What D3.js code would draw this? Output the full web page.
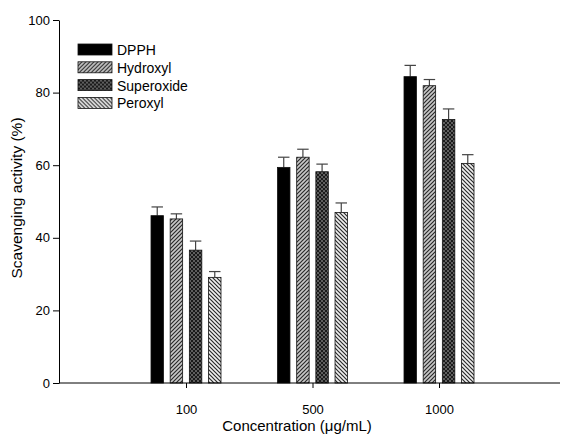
<!doctype html>
<html lang="en">
<head>
<meta charset="utf-8">
<title>Scavenging activity</title>
<script src="https://d3js.org/d3.v7.min.js"></script>
<style>
  body { margin: 0; background: #fff; }
  text { font-family: "Liberation Sans", Arial, sans-serif; fill: #000; }
</style>
</head>
<body>
<div id="chart"></div>
<script>
// data
var concentrations = ["100", "500", "1000"];
var assays = ["DPPH", "Hydroxyl", "Superoxide", "Peroxyl"];
var dpph       = [46.1, 59.4, 84.4];
var hydroxyl   = [45.2, 62.2, 81.9];
var superoxide = [36.6, 58.2, 72.6];
var peroxyl    = [29.1, 47.0, 60.5];
var dpphErr       = [2.4, 2.8, 3.1];
var hydroxylErr   = [1.4, 2.2, 1.7];
var superoxideErr = [2.5, 2.1, 2.9];
var peroxylErr    = [1.6, 2.6, 2.4];
var yTicks = [0, 20, 40, 60, 80, 100];

var values = [dpph, hydroxyl, superoxide, peroxyl];
var errors = [dpphErr, hydroxylErr, superoxideErr, peroxylErr];

var W = 563, H = 436;
var margin = {top: 20, right: 3, bottom: 53, left: 59};
var width = W - margin.left - margin.right,
    height = H - margin.top - margin.bottom;

var svg = d3.select("#chart").append("svg")
    .attr("width", W).attr("height", H);

// fill patterns
var defs = svg.append("defs");
var p1 = defs.append("pattern").attr("id", "hatchFwd")
    .attr("patternUnits", "userSpaceOnUse").attr("width", 4).attr("height", 4);
p1.append("rect").attr("width", 4).attr("height", 4).attr("fill", "#c8c8c8");
p1.append("path").attr("d", "M-1,1 l2,-2 M0,4 l4,-4 M3,5 l2,-2")
    .attr("stroke", "#2a2a2a").attr("stroke-width", 1.2);

var p2 = defs.append("pattern").attr("id", "checker")
    .attr("patternUnits", "userSpaceOnUse").attr("width", 4).attr("height", 4);
p2.append("rect").attr("width", 4).attr("height", 4).attr("fill", "#5e5e5e");
p2.append("rect").attr("width", 2).attr("height", 2).attr("fill", "#1a1a1a");
p2.append("rect").attr("x", 2).attr("y", 2).attr("width", 2).attr("height", 2).attr("fill", "#1a1a1a");

var p3 = defs.append("pattern").attr("id", "hatchBack")
    .attr("patternUnits", "userSpaceOnUse").attr("width", 4).attr("height", 4);
p3.append("rect").attr("width", 4).attr("height", 4).attr("fill", "#f0f0f0");
p3.append("path").attr("d", "M-1,3 l2,2 M0,0 l4,4 M3,-1 l2,2")
    .attr("stroke", "#2a2a2a").attr("stroke-width", 1.2);

var fills = ["#000", "url(#hatchFwd)", "url(#checker)", "url(#hatchBack)"];

var g = svg.append("g")
    .attr("transform", "translate(" + margin.left + "," + margin.top + ")");

// group centres
var x = d3.scalePoint().domain(concentrations).range([127, 380]);
var xs = d3.scaleBand().domain(assays)
    .range([-35, 35]).paddingInner(0.35).paddingOuter(0);

var y = d3.scaleLinear().domain([0, 100]).range([height, 0]);

function barX(c, a) { return x(c) + xs(a); }

// bars
assays.forEach(function(a, i) {
  var gs = g.append("g");
  gs.selectAll("line.err")
    .data(concentrations)
    .enter().append("line")
      .attr("x1", function(c) { return barX(c, a) + xs.bandwidth() / 2; })
      .attr("x2", function(c) { return barX(c, a) + xs.bandwidth() / 2; })
      .attr("y1", function(c, j) { return y(values[i][j]); })
      .attr("y2", function(c, j) { return y(values[i][j] + errors[i][j]); })
      .attr("stroke", "#444").attr("stroke-width", 1.2);
  gs.selectAll("line.cap")
    .data(concentrations)
    .enter().append("line")
      .attr("x1", function(c) { return barX(c, a) + 0.5; })
      .attr("x2", function(c) { return barX(c, a) + xs.bandwidth() - 0.5; })
      .attr("y1", function(c, j) { return y(values[i][j] + errors[i][j]); })
      .attr("y2", function(c, j) { return y(values[i][j] + errors[i][j]); })
      .attr("stroke", "#444").attr("stroke-width", 1.2);
  gs.selectAll("rect")
    .data(concentrations)
    .enter().append("rect")
      .attr("x", function(c) { return barX(c, a); })
      .attr("width", xs.bandwidth())
      .attr("y", function(c, j) { return y(values[i][j]); })
      .attr("height", function(c, j) { return height - y(values[i][j]); })
      .attr("fill", fills[i])
      .attr("stroke", "#111").attr("stroke-width", 0.8);
});

// axes
var yAxis = g.append("g")
  .call(d3.axisLeft(y).tickValues(yTicks).tickSize(6).tickSizeOuter(0));
var xAxis = g.append("g")
  .attr("transform", "translate(0," + height + ")")
  .call(d3.axisBottom(x).tickSize(5).tickSizeOuter(0));
xAxis.select(".domain").remove();
xAxis.append("line").attr("x1", 0).attr("x2", width)
  .attr("stroke", "#000");
[yAxis, xAxis].forEach(function(ax) {
  ax.selectAll("path, line").attr("stroke", "#000");
  ax.selectAll("text").attr("font-size", 13)
    .attr("font-family", "Liberation Sans, Arial, sans-serif").attr("fill", "#000");
});
yAxis.selectAll("text").attr("x", -9);
xAxis.selectAll("text").attr("y", 22);

// axis titles
svg.append("text")
  .attr("transform", "translate(22,198) rotate(-90)")
  .attr("text-anchor", "middle")
  .attr("font-size", 15.5)
  .text("Scavenging activity (%)");
svg.append("text")
  .attr("x", 297).attr("y", 431)
  .attr("text-anchor", "middle")
  .attr("font-size", 15)
  .text("Concentration (\u03bcg/mL)");

// legend
var legend = svg.append("g").attr("transform", "translate(78,44)");
assays.forEach(function(a, i) {
  var row = legend.append("g").attr("transform", "translate(0," + (i * 17.8) + ")");
  row.append("rect").attr("width", 34).attr("height", 11)
    .attr("fill", fills[i]).attr("stroke", "#111").attr("stroke-width", 0.8);
  row.append("text").attr("x", 39).attr("y", 11)
    .attr("font-size", 14).text(a);
});
</script>
</body>
</html>
